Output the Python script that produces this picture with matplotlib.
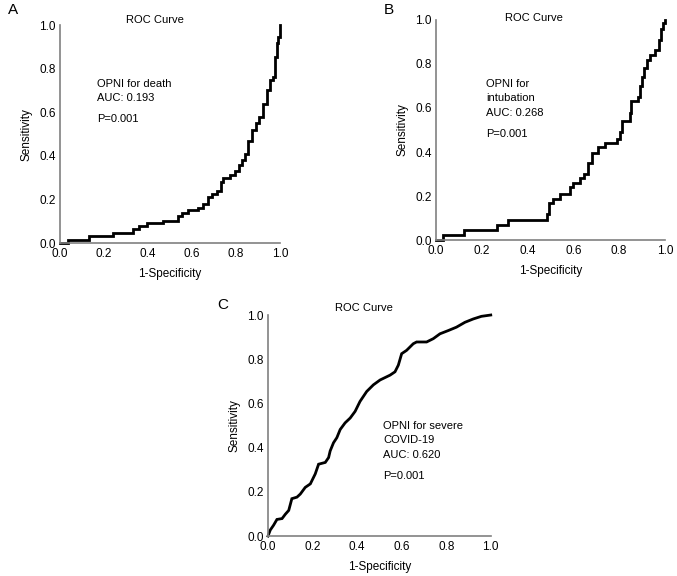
import numpy as np
import matplotlib
matplotlib.use("Agg")
import matplotlib.pyplot as plt

plt.rcParams["font.family"] = ["Liberation Sans", "DejaVu Sans"]

# ── data ───────────────────────────────────────────────────────────────────
# A: OPNI for death (step ROC, jump points)
a_fpr = [0.0, 0.038, 0.133, 0.242, 0.333, 0.36, 0.394, 0.467, 0.538, 0.553,
         0.583, 0.629, 0.652, 0.674, 0.689, 0.712, 0.730, 0.739, 0.773, 0.795,
         0.815, 0.826, 0.841, 0.856, 0.871, 0.891, 0.906, 0.924, 0.939, 0.955,
         0.970, 0.977, 0.985, 0.992, 1.0]
a_tpr = [0.0, 0.015, 0.034, 0.046, 0.064, 0.08, 0.09, 0.10, 0.125, 0.137,
         0.153, 0.16, 0.18, 0.21, 0.226, 0.237, 0.28, 0.30, 0.313, 0.33,
         0.36, 0.38, 0.41, 0.466, 0.52, 0.55, 0.58, 0.64, 0.70, 0.75,
         0.763, 0.855, 0.916, 0.947, 1.0]

# B: OPNI for intubation
b_fpr = [0.0, 0.032, 0.122, 0.265, 0.313, 0.483, 0.495, 0.512, 0.541, 0.585,
         0.600, 0.629, 0.646, 0.665, 0.680, 0.709, 0.738, 0.789, 0.803, 0.815,
         0.847, 0.854, 0.884, 0.891, 0.902, 0.908, 0.920, 0.934, 0.956, 0.975,
         0.985, 0.993, 1.0]
b_tpr = [0.0, 0.023, 0.045, 0.07, 0.09, 0.12, 0.167, 0.186, 0.21, 0.242,
         0.26, 0.28, 0.30, 0.35, 0.394, 0.424, 0.44, 0.46, 0.49, 0.54,
         0.576, 0.63, 0.65, 0.70, 0.74, 0.78, 0.82, 0.84, 0.864, 0.91,
         0.96, 0.985, 1.0]

# C: OPNI for severe COVID-19
c_fpr = [0.0, 0.010, 0.025, 0.040, 0.063, 0.078, 0.093, 0.107, 0.130, 0.145,
         0.167, 0.190, 0.212, 0.227, 0.257, 0.272, 0.279, 0.294, 0.309, 0.324,
         0.346, 0.369, 0.391, 0.413, 0.443, 0.473, 0.503, 0.548, 0.570, 0.585,
         0.600, 0.622, 0.652, 0.667, 0.712, 0.742, 0.772, 0.810, 0.846, 0.884,
         0.921, 0.958, 1.0]
c_tpr = [0.0, 0.027, 0.049, 0.075, 0.079, 0.099, 0.116, 0.169, 0.176, 0.190,
         0.220, 0.236, 0.281, 0.325, 0.333, 0.355, 0.385, 0.422, 0.445, 0.482,
         0.512, 0.534, 0.564, 0.609, 0.654, 0.684, 0.706, 0.728, 0.743, 0.773,
         0.825, 0.840, 0.870, 0.878, 0.878, 0.893, 0.915, 0.930, 0.945, 0.967,
         0.982, 0.994, 1.0]

ticks = [0.0, 0.2, 0.4, 0.6, 0.8, 1.0]
tick_labels = ["0.0", "0.2", "0.4", "0.6", "0.8", "1.0"]

# letter, x, y, drawstyle, annotation lines, axes rect, text pos, title pos,
# letter pos (figure fraction)
panels = [
    ("A", a_fpr, a_tpr, "steps-post", ["OPNI for death", "AUC: 0.193"],
     [0.0886, 0.578, 0.325, 0.3785], (0.17, 0.73), (0.43, 1.025), (0.0192, 0.9826)),
    ("B", b_fpr, b_tpr, "steps-post", ["OPNI for", "intubation", "AUC: 0.268"],
     [0.644, 0.5833, 0.338, 0.382], (0.22, 0.71), (0.43, 1.01), (0.5746, 0.9826)),
    ("C", c_fpr, c_tpr, "default", ["OPNI for severe", "COVID-19", "AUC: 0.620"],
     [0.3959, 0.0694, 0.329, 0.3837], (0.516, 0.50), (0.43, 1.03), (0.3294, 0.4705)),
]

fig = plt.figure(figsize=(6.77, 5.76), dpi=100)

for letter, fpr, tpr, ds, lines, rect, (tx, ty), (ttx, tty), (lx, ly) in panels:
    ax = fig.add_axes(rect)
    ax.plot(fpr, tpr, color="black", linewidth=2.0, drawstyle=ds,
            solid_joinstyle="miter", clip_on=False)
    ax.set_xlim(0, 1)
    ax.set_ylim(0, 1)
    ax.set_xticks(ticks)
    ax.set_xticklabels(tick_labels)
    ax.set_yticks(ticks)
    ax.set_yticklabels(tick_labels)
    ax.tick_params(length=0, labelsize=8.5)
    ax.tick_params(axis="x", pad=3.5)
    ax.tick_params(axis="y", pad=3)
    for side in ("top", "right"):
        ax.spines[side].set_visible(False)
    for side in ("left", "bottom"):
        ax.spines[side].set_color("#808080")
        ax.spines[side].set_linewidth(1.2)
    ax.set_xlabel("1-Specificity", fontsize=8.5, labelpad=6)
    ax.set_ylabel("Sensitivity", fontsize=8.5, labelpad=5)
    ax.text(ttx, tty, "ROC Curve", transform=ax.transAxes,
            fontsize=8, ha="center", va="center")

    # annotation block
    step = 0.066
    for i, s in enumerate(lines):
        ax.text(tx, ty - i * step, s, fontsize=8, ha="left", va="center")
    ax.text(tx, ty - (len(lines) - 1) * step - 0.095, "P=0.001",
            fontsize=8, ha="left", va="center")

    # panel letter
    fig.text(lx, ly, letter, fontsize=11, ha="center", va="center")

fig.savefig("out.png", dpi=100)
